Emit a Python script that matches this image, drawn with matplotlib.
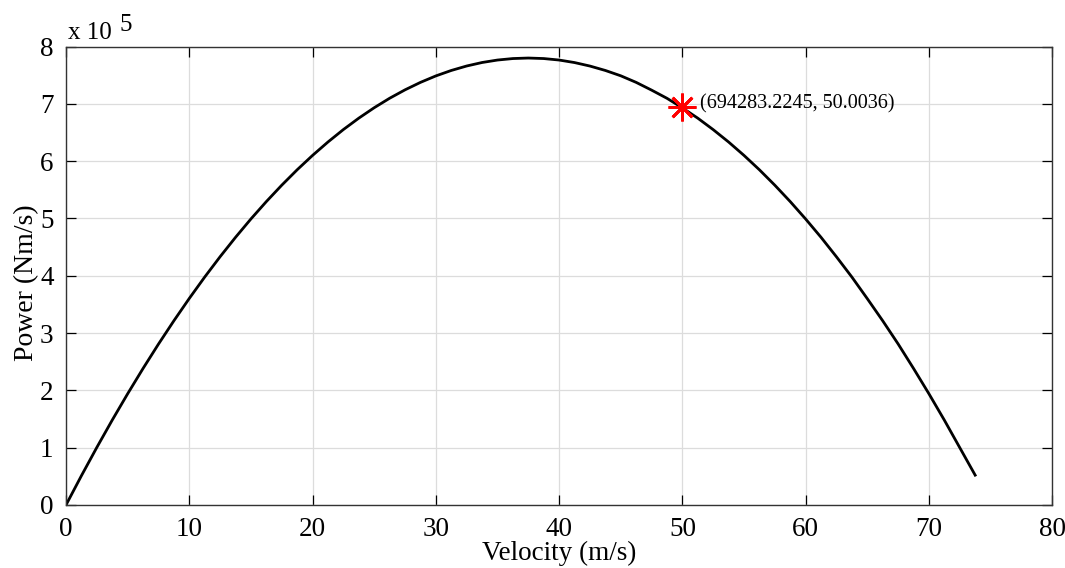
import matplotlib
matplotlib.use("Agg")
import matplotlib.pyplot as plt

# velocity (m/s) and power (x 10^5 Nm/s)
velocity = [0, 1.25, 2.5, 3.75, 5, 6.25, 7.5, 8.75, 10, 11.25, 12.5, 13.75, 15,
            16.25, 17.5, 18.75, 20, 21.25, 22.5, 23.75, 25, 26.25, 27.5, 28.75,
            30, 31.25, 32.5, 33.75, 35, 36.25, 37.5, 38.75, 40, 41.25, 42.5,
            43.75, 45, 46.25, 47.5, 48.75, 50, 51.25, 52.5, 53.75, 55, 56.25,
            57.5, 58.75, 60, 61.25, 62.5, 63.75, 65, 66.25, 67.5, 68.75, 70,
            71.25, 72.5, 73.75]
power = [0.0, 0.511, 1.005, 1.482, 1.941, 2.383, 2.808, 3.215, 3.605, 3.978,
         4.333, 4.671, 4.992, 5.295, 5.581, 5.850, 6.101, 6.335, 6.552, 6.751,
         6.933, 7.098, 7.245, 7.375, 7.488, 7.583, 7.661, 7.722, 7.765, 7.791,
         7.80, 7.791, 7.765, 7.721, 7.66, 7.583, 7.49, 7.375, 7.24, 7.097,
         6.93, 6.750, 6.55, 6.334, 6.10, 5.849, 5.58, 5.294, 4.99, 4.670,
         4.33, 3.977, 3.60, 3.214, 2.81, 2.382, 1.94, 1.480, 1.00, 0.52]

point_v = 50.0036
point_p = 6.942832245
point_label = "(694283.2245, 50.0036)"

x_ticks = [0, 10, 20, 30, 40, 50, 60, 70, 80]
y_ticks = [0, 1, 2, 3, 4, 5, 6, 7, 8]

plt.rcParams['font.family'] = ['Liberation Serif', 'DejaVu Serif']

fig = plt.figure(figsize=(10.65, 5.68), dpi=100)
ax = fig.add_axes([0.062, 0.111, 0.926, 0.807])

ax.plot(velocity, power, c='black', lw=2)
ax.plot(point_v, point_p, marker=(8, 2, 0), c='red', markersize=20, mew=2)
ax.text(point_v + 1.4, point_p + 0.06, point_label, fontsize=14.5, va='center')

ax.set_xlim(0, 80)
ax.set_ylim(0, 8)
ax.set_xticks(x_ticks)
ax.set_yticks(y_ticks)
ax.grid(True, color='#dcdcdc', lw=0.9)
ax.set_axisbelow(True)
ax.tick_params(direction='in', length=7, width=0.9, top=True, right=True,
               labelsize=19.5)
ax.tick_params(axis='x', pad=8.5)
ax.tick_params(axis='y', pad=9)
for s in ax.spines.values():
    s.set_linewidth(1.0)
    s.set_color('#333333')

ax.set_xlabel('Velocity (m/s)', fontsize=19.5)
ax.xaxis.set_label_coords(0.5, -0.079)
ax.set_ylabel('Power (Nm/s)', fontsize=20)
ax.yaxis.set_label_coords(-0.027, 0.484)

fig.text(0.064, 0.932, 'x 10', fontsize=18)
fig.text(0.112, 0.945, '5', fontsize=18)

fig.savefig('out.png')
